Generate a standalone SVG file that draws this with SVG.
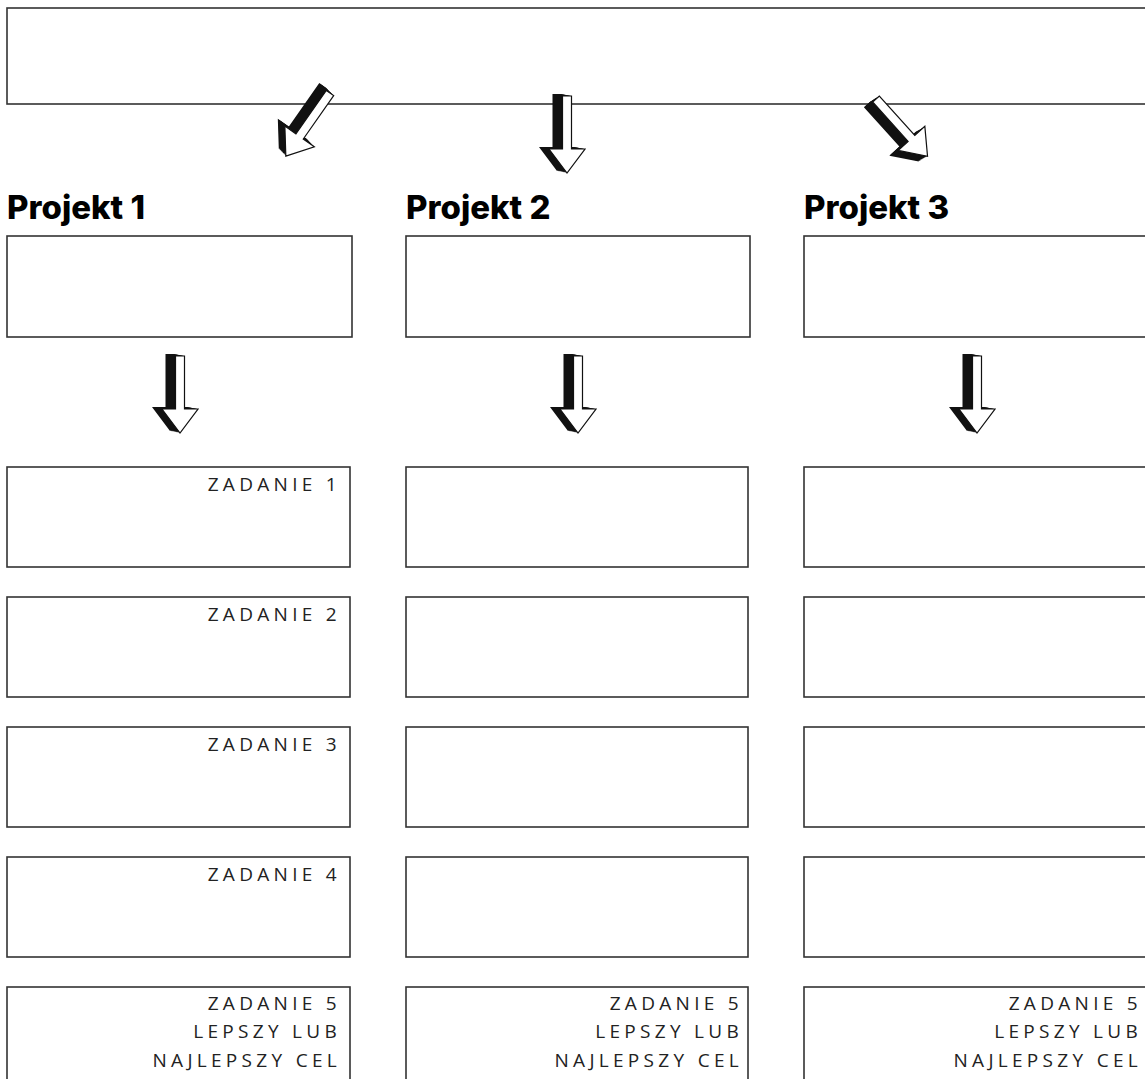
<svg xmlns="http://www.w3.org/2000/svg" xmlns:xlink="http://www.w3.org/1999/xlink" width="1145" height="1079" viewBox="0 0 1145 1079">
<style>
.box{fill:#fff;stroke:#333;stroke-width:1.6}
.h{font-family:Inter,"Noto Sans",sans-serif;font-weight:800;font-size:33px;fill:#000}
.t{font-family:"Open Sans","Noto Sans",sans-serif;font-size:19px;letter-spacing:4.3px;fill:#222;text-anchor:end}
.sh{fill:#111}
.wf{fill:#fff;stroke:#111;stroke-width:1.2;stroke-linejoin:miter}
</style>
<defs>
<polygon id="ap" points="-4.5,0 4.5,0 4.5,53 18,53 0,77 -18,53 -4.5,53"/>
<g id="arr">
<use href="#ap" class="sh" transform="translate(-1,-0.2)"/>
<use href="#ap" class="sh" transform="translate(-2,-0.4)"/>
<use href="#ap" class="sh" transform="translate(-3,-0.6)"/>
<use href="#ap" class="sh" transform="translate(-4,-0.8)"/>
<use href="#ap" class="sh" transform="translate(-5,-1)"/>
<use href="#ap" class="sh" transform="translate(-6,-1.2)"/>
<use href="#ap" class="sh" transform="translate(-7,-1.4)"/>
<use href="#ap" class="sh" transform="translate(-8,-1.6)"/>
<use href="#ap" class="sh" transform="translate(-9,-1.8)"/>
<use href="#ap" class="sh" transform="translate(-10,-2)"/>
<use href="#ap" class="wf"/>
</g>
</defs>
<rect width="1145" height="1079" fill="#fff"/>
<g id="top"><rect class="box" x="7" y="8" width="1150" height="96"/></g>

<g id="p1"><text class="h" x="7" y="219">Projekt 1</text><rect class="box" x="7" y="236" width="345" height="101"/></g>
<g id="p2"><text class="h" x="406" y="219">Projekt 2</text><rect class="box" x="406" y="236" width="344" height="101"/></g>
<g id="p3"><text class="h" x="804" y="219">Projekt 3</text><rect class="box" x="804" y="236" width="360" height="101"/></g>

<g id="c1r1"><rect class="box" x="7" y="467" width="343" height="100"/><text class="t" x="341" y="491">ZADANIE 1</text></g>
<g id="c1r2"><rect class="box" x="7" y="597" width="343" height="100"/><text class="t" x="341" y="621">ZADANIE 2</text></g>
<g id="c1r3"><rect class="box" x="7" y="727" width="343" height="100"/><text class="t" x="341" y="751">ZADANIE 3</text></g>
<g id="c1r4"><rect class="box" x="7" y="857" width="343" height="100"/><text class="t" x="341" y="881">ZADANIE 4</text></g>
<g id="c1r5"><rect class="box" x="7" y="987" width="343" height="120"/><text class="t" x="341" y="1010">ZADANIE 5</text><text class="t" x="341" y="1038">LEPSZY LUB</text><text class="t" x="341" y="1067">NAJLEPSZY CEL</text></g>

<g id="c2r1"><rect class="box" x="406" y="467" width="342" height="100"/></g>
<g id="c2r2"><rect class="box" x="406" y="597" width="342" height="100"/></g>
<g id="c2r3"><rect class="box" x="406" y="727" width="342" height="100"/></g>
<g id="c2r4"><rect class="box" x="406" y="857" width="342" height="100"/></g>
<g id="c2r5"><rect class="box" x="406" y="987" width="342" height="120"/><text class="t" x="743" y="1010">ZADANIE 5</text><text class="t" x="743" y="1038">LEPSZY LUB</text><text class="t" x="743" y="1067">NAJLEPSZY CEL</text></g>

<g id="c3r1"><rect class="box" x="804" y="467" width="360" height="100"/></g>
<g id="c3r2"><rect class="box" x="804" y="597" width="360" height="100"/></g>
<g id="c3r3"><rect class="box" x="804" y="727" width="360" height="100"/></g>
<g id="c3r4"><rect class="box" x="804" y="857" width="360" height="100"/></g>
<g id="c3r5"><rect class="box" x="804" y="987" width="360" height="120"/><text class="t" x="1142" y="1010">ZADANIE 5</text><text class="t" x="1142" y="1038">LEPSZY LUB</text><text class="t" x="1142" y="1067">NAJLEPSZY CEL</text></g>

<g id="connectors">
<use href="#arr" transform="translate(330,93) rotate(35)"/>
<use href="#arr" transform="translate(567,96)"/>
<use href="#arr" transform="translate(876,99) rotate(-42)"/>
<use href="#arr" transform="translate(180,356)"/>
<use href="#arr" transform="translate(578,356)"/>
<use href="#arr" transform="translate(977,356)"/>
</g>
</svg>
